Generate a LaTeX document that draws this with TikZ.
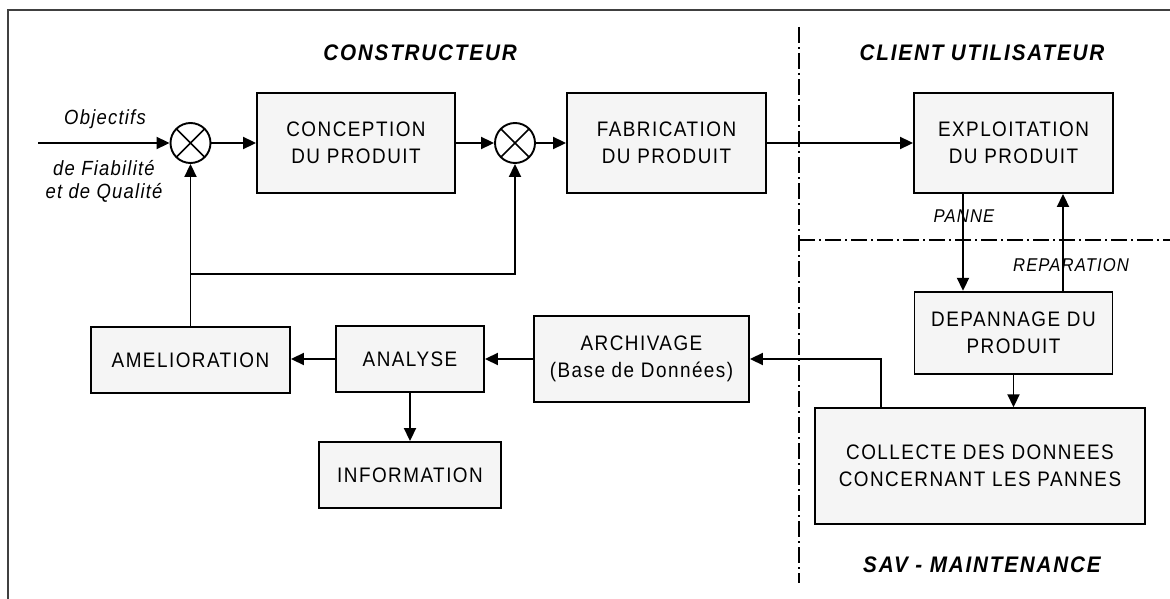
\documentclass[tikz,border=0pt]{standalone}
\usepackage{fontspec}
\setmainfont{Liberation Sans}
\newfontfamily\boxfont[LetterSpace=7,FakeStretch=0.9]{Liberation Sans}
\newfontfamily\labfont[LetterSpace=6,FakeStretch=0.9]{Liberation Sans}
\newfontfamily\headfont[LetterSpace=8,FakeStretch=0.92]{Liberation Sans}
\usetikzlibrary{arrows.meta}
\begin{document}
\begin{tikzpicture}[x=1pt,y=-1pt,
  box/.style={draw, line width=1.9pt, fill=black!4, inner sep=0pt, align=center,
    font=\boxfont\fontsize{21}{27}\selectfont},
  sumnode/.style={circle, draw, line width=1.9pt, minimum size=40pt, inner sep=0pt, fill=white,
    path picture={\draw[line width=1.6pt]
      (path picture bounding box.north west)--(path picture bounding box.south east)
      (path picture bounding box.north east)--(path picture bounding box.south west);}},
  conn/.style={line width=1.9pt, -{Triangle[length=13pt,width=12pt]}},
  sepline/.style={line width=1.4pt, dash pattern=on 16pt off 4pt on 2pt off 4pt},
  head/.style={inner sep=0pt, font=\headfont\bfseries\itshape\fontsize{22.5}{27}\selectfont},
  lab/.style={inner sep=0pt, font=\labfont\itshape\fontsize{20.5}{25}\selectfont},
  smalllab/.style={inner sep=0pt, font=\labfont\itshape\fontsize{18.5}{22}\selectfont}]
\useasboundingbox (0,0) rectangle (1170,599);
\fill[white] (0,0) rectangle (1170,599);
% frame
\draw[line width=1.3pt, black!75] (8,600) -- (8,10) -- (1171,10);
% separators
\draw[sepline] (799,27) -- (799,583);
\draw[sepline] (799,240) -- (1171,240);
% headings
\node[head] (hcons) at (420,53) {CONSTRUCTEUR};
\node[head] (hcli) at (982,53) {CLIENT UTILISATEUR};
\node[head] (hsav) at (982,565) {SAV - MAINTENANCE};
% input labels
\node[lab] (lobj) at (105,119) {Objectifs};
\node[lab] (lfia) at (104,168) {de Fiabilité};
\node[lab] (lqua) at (104,193) {et de Qualité};
% sum nodes
\node[sumnode] (s1) at (190.5,143) {};
\node[sumnode] (s2) at (515,143) {};
% boxes
\node[box, minimum width=198pt, minimum height=100pt] (conc) at (356,143) {CONCEPTION\\DU PRODUIT};
\node[box, minimum width=199pt, minimum height=100pt] (fab) at (666.5,143) {FABRICATION\\DU PRODUIT};
\node[box, minimum width=199pt, minimum height=100pt] (expl) at (1013.5,143) {EXPLOITATION\\DU PRODUIT};
\node[box, minimum width=198pt, minimum height=82.5pt] (dep) at (1013.5,333) {DEPANNAGE DU\\PRODUIT};
\node[box, minimum width=330pt, minimum height=115.5pt] (coll) at (980,466) {COLLECTE DES DONNEES\\CONCERNANT LES PANNES};
\node[box, minimum width=215pt, minimum height=86pt] (arch) at (641.5,359) {ARCHIVAGE\\(Base de Données)};
\node[box, minimum width=148pt, minimum height=66pt] (ana) at (410,359) {ANALYSE};
\node[box, minimum width=199pt, minimum height=66pt] (ame) at (190.5,360) {AMELIORATION};
\node[box, minimum width=182pt, minimum height=66pt] (info) at (410,475) {INFORMATION};
% small labels
\node[smalllab] (lpanne) at (964,216) {PANNE};
\node[smalllab] (lrep) at (1071,265) {REPARATION};
% coordinates
\coordinate (in) at (38,143);
\coordinate (fb) at (190.5,274);
\coordinate (pannetop) at ([xshift=-50.5pt]expl.south);
\coordinate (pannebot) at ([xshift=-50.5pt]dep.north);
\coordinate (reptop) at ([xshift=49.5pt]expl.south);
\coordinate (repbot) at ([xshift=49.5pt]dep.north);
\coordinate (colltop) at (881,408.5);
% connectors
\draw[conn] (in) -- (s1.west);
\draw[conn] (s1.east) -- (conc.west);
\draw[conn] (conc.east) -- (s2.west);
\draw[conn] (s2.east) -- (fab.west);
\draw[conn] (fab.east) -- (expl.west);
\draw[conn] (pannetop) -- (pannebot);
\draw[conn] (repbot) -- (reptop);
\draw[conn] (dep.south) -- (dep.south |- coll.north);
\draw[conn] (colltop) |- (arch.east);
\draw[conn] (arch.west) -- (ana.east);
\draw[conn] (ana.west) -- (ana.west -| ame.east);
\draw[conn] (ana.south) -- (info.north);
\draw[conn] (ame.north) -- (s1.south);
\draw[conn] (fb) -| (s2.south);
\end{tikzpicture}
\end{document}
